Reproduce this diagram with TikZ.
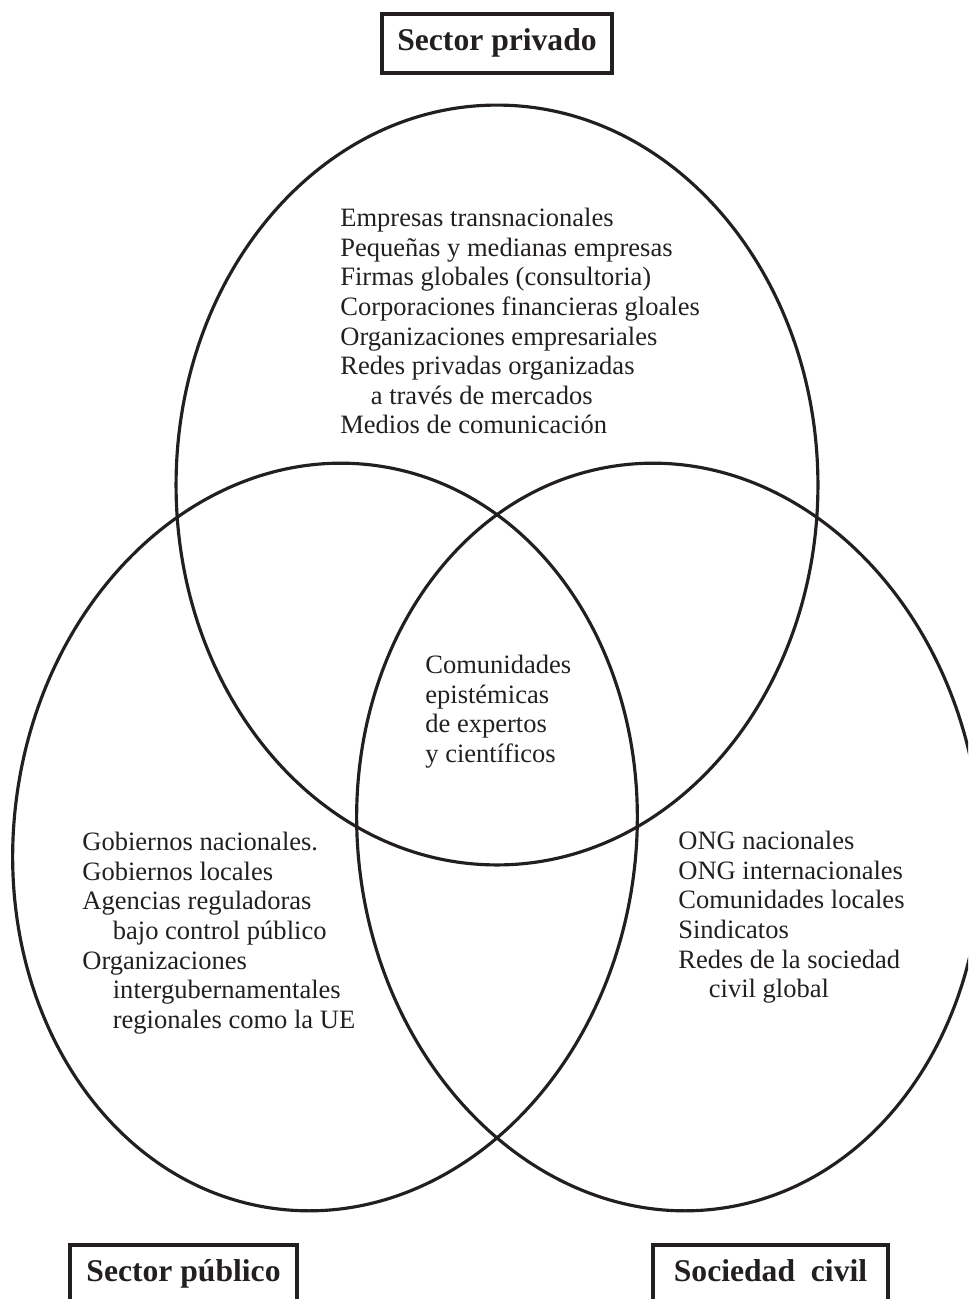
\documentclass[tikz,border=0pt]{standalone}
\usepackage{fontspec}
\setmainfont{Liberation Serif}
\usetikzlibrary{positioning}
\definecolor{inkdark}{HTML}{231F20}
\newcommand{\sangria}{\hspace*{1.15em}}

\begin{document}
\begin{tikzpicture}[x=0.02cm, y=0.02cm,
    sector/.style={rectangle, draw=inkdark, text=inkdark, line width=1.9pt, minimum width=4.6cm, minimum height=1.18cm, inner sep=0pt, text height=12.5pt, text depth=4pt, font=\fontsize{18}{20}\selectfont\bfseries},
    lista/.style={anchor=north west, align=left, inner sep=0pt, text=inkdark, font=\fontsize{15.1}{16.85}\selectfont},
    conjunto/.style={draw=inkdark, line width=1.8pt}
]
\useasboundingbox (0,0) rectangle (968,-1299);
\clip (0,0) rectangle (968,-1299);

% Centros de los conjuntos
\coordinate (cprivado) at (497,-485);
\coordinate (cpublico) at (325,-837);
\coordinate (ccivil) at (669,-837);

% Conjuntos
\draw[conjunto] (cprivado) ellipse [x radius=6.42cm, y radius=7.6cm];
\draw[conjunto, rotate around={-8:(cpublico)}] (cpublico) ellipse [x radius=6.22cm, y radius=7.5cm];
\draw[conjunto, rotate around={8:(ccivil)}] (ccivil) ellipse [x radius=6.22cm, y radius=7.5cm];

% Titulos
\node[sector] (privado) at (497,-43.5) {Sector privado};
\node[sector, minimum width=4.54cm] (publico) at (183.5,-1274.5) {Sector público};
\node[sector, minimum width=4.7cm] (civil) at (770.5,-1274.5) {Sociedad\ \ civil};

% Contenidos
\node[lista] (empresas) at (340,-208) {Empresas transnacionales\\
Pequeñas y medianas empresas\\
Firmas globales (consultoria)\\
Corporaciones financieras gloales\\
Organizaciones empresariales\\
Redes privadas organizadas\\
\sangria a través de mercados\\
Medios de comunicación};

\node[lista] (expertos) at (425,-655) {Comunidades\\
epistémicas\\
de expertos\\
y científicos};

\node[lista] (gobiernos) at (82,-832) {Gobiernos nacionales.\\
Gobiernos locales\\
Agencias reguladoras\\
\sangria bajo control público\\
Organizaciones\\
\sangria intergubernamentales\\
\sangria regionales como la UE};

\node[lista] (ong) at (678,-831) {ONG nacionales\\
ONG internacionales\\
Comunidades locales\\
Sindicatos\\
Redes de la sociedad\\
\sangria civil global};

\end{tikzpicture}
\end{document}
